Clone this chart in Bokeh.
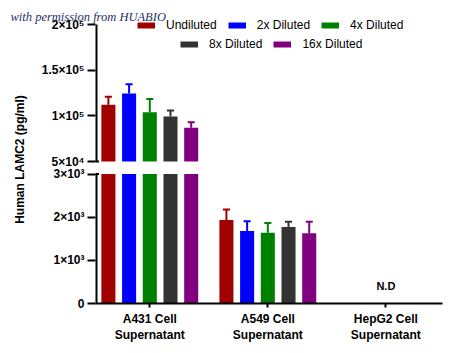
import math
from bokeh.plotting import figure
from bokeh.models import (Range1d, FixedTicker, Legend, LegendItem, Label, Arrow,
                          TeeHead, ColumnDataSource, Title)
from bokeh.embed import file_html
from bokeh.resources import INLINE

# ---------------- data ----------------
groups = ["A431 Cell\nSupernatant", "A549 Cell\nSupernatant", "HepG2 Cell\nSupernatant"]
dilutions = ["Undiluted", "2x Diluted", "4x Diluted", "8x Diluted", "16x Diluted"]
colors = ["#A00000", "#0000FF", "#008000", "#333333", "#800080"]

a431_mean = [112000, 124500, 104000, 99300, 86900]
a431_err = [9000, 10000, 14500, 6500, 6000]
a549_mean = [1935, 1680, 1640, 1770, 1625]
a549_err = [245, 225, 225, 125, 270]
hepg2_note = "N.D"

lower_ticks = [0, 1000, 2000, 3000]
lower_labels = ["0", "1×10³", "2×10³", "3×10³"]
upper_ticks = [50000, 100000, 150000, 200000]
upper_labels = ["5×10⁴", "1×10⁵", "1.5×10⁵", "2×10⁵"]

# ---------------- scales (broken axis) ----------------
LOW = (0, 6672)            # lower segment scale (0 .. 3e3 shown)
UP = (-105474, 209854)     # upper segment scale (5e4 .. 2e5 shown)
LOW_TOP = 3000
UP_BOTTOM = 50000
UP_TOP = 200000
XR = (-0.46, 2.48)

BAR_W = 0.119
STEP = 0.1754
CAP = 0.06

FONT = "Liberation Sans"

p = figure(width=450, height=353, output_backend="svg", toolbar_location=None,
           x_range=Range1d(*XR), y_range=Range1d(*LOW),
           min_border_left=95, min_border_right=8, min_border_top=15, min_border_bottom=50)
p.extra_y_ranges = {"upper": Range1d(*UP)}
p.xgrid.visible = False
p.ygrid.visible = False
p.outline_line_color = None
p.background_fill_color = "white"
p.border_fill_color = "white"

# watermark
p.title = Title(text="with permission from HUABIO", align="left", offset=-85, standoff=-16,
                text_font="Liberation Serif", text_font_style="italic",
                text_font_size="12.5px", text_color="#1F2F66")

# build bar sources
rows = dict(x=[], mean=[], err=[], color=[], low_top=[])
for gi, (means, errs) in enumerate([(a431_mean, a431_err), (a549_mean, a549_err)]):
    for j, (m, e) in enumerate(zip(means, errs)):
        rows["x"].append(gi + (j - 2) * STEP)
        rows["mean"].append(m)
        rows["err"].append(e)
        rows["color"].append(colors[j])
        rows["low_top"].append(min(m, LOW_TOP))

low_src = ColumnDataSource(dict(x=rows["x"], top=rows["low_top"], color=rows["color"]))
p.vbar(x="x", bottom=0, top="top", width=BAR_W, fill_color="color", line_color=None,
       source=low_src)

up_idx = [i for i, m in enumerate(rows["mean"]) if m > UP_BOTTOM]
lo_idx = [i for i, m in enumerate(rows["mean"]) if m <= LOW_TOP]

def sub(idx):
    x = [rows["x"][i] for i in idx]
    m = [rows["mean"][i] for i in idx]
    e = [rows["err"][i] for i in idx]
    c = [rows["color"][i] for i in idx]
    return ColumnDataSource(dict(x=x, top=m, hi=[a + b for a, b in zip(m, e)],
                                 xl=[a - CAP / 2 for a in x], xr=[a + CAP / 2 for a in x],
                                 color=c))

up_src = sub(up_idx)
lo_src = sub(lo_idx)

p.vbar(x="x", bottom=UP_BOTTOM, top="top", width=BAR_W, fill_color="color", line_color=None,
       source=up_src, y_range_name="upper")

for src, rng in [(up_src, "upper"), (lo_src, "default")]:
    p.segment(x0="x", y0="top", x1="x", y1="hi", line_color="color", line_width=2,
              source=src, y_range_name=rng)
    p.segment(x0="xl", y0="hi", x1="xr", y1="hi", line_color="color", line_width=2,
              source=src, y_range_name=rng)

# ---------------- axes ----------------
def to_low(v):
    return round(LOW[0] + (v - UP[0]) / (UP[1] - UP[0]) * (LOW[1] - LOW[0]), 3)

mapped_upper = [to_low(v) for v in upper_ticks]
ya = p.yaxis[0]
ya.ticker = FixedTicker(ticks=lower_ticks + mapped_upper)
ya.major_label_overrides = {**{float(t): l for t, l in zip(lower_ticks, lower_labels)},
                            **{t: l for t, l in zip(mapped_upper, upper_labels)}}
ya.axis_line_color = None
ya.major_tick_out = 8
ya.major_tick_in = 0
ya.major_tick_line_width = 2
ya.minor_tick_line_color = None
ya.major_label_standoff = 3
ya.major_label_text_font = FONT
ya.major_label_text_font_style = "bold"
ya.major_label_text_font_size = "12px"
ya.major_label_text_color = "black"
ya.axis_label = "Human LAMC2 (pg/ml)"
ya.axis_label_standoff = 12
ya.axis_label_text_font = FONT
ya.axis_label_text_font_style = "bold"
ya.axis_label_text_font_size = "12px"
ya.axis_label_text_color = "black"

xa = p.xaxis[0]
xa.ticker = FixedTicker(ticks=[0, 1, 2])
xa.major_label_overrides = {i: g for i, g in enumerate(groups)}
xa.axis_line_width = 2
xa.axis_line_color = "black"
xa.major_tick_out = 4
xa.major_tick_in = 0
xa.major_tick_line_width = 2
xa.minor_tick_line_color = None
xa.major_label_standoff = 4
xa.major_label_text_font = FONT
xa.major_label_text_font_style = "bold"
xa.major_label_text_font_size = "12px"
xa.major_label_text_color = "black"

# broken y-axis lines (two segments)
p.add_layout(Arrow(x_start=XR[0], y_start=0, x_end=XR[0], y_end=LOW_TOP, line_width=4,
                   line_color="black", line_cap="butt", start=None,
                   end=TeeHead(size=7, line_width=2, line_color="black")))
p.add_layout(Arrow(x_start=XR[0], y_start=UP_BOTTOM, x_end=XR[0], y_end=UP_TOP, line_width=4,
                   line_color="black", line_cap="butt", end=None,
                   start=TeeHead(size=7, line_width=2, line_color="black"),
                   y_range_name="upper"))

# ---------------- legend ----------------
nan = float("nan")
leg_renderers = [p.line(x=[nan], y=[nan], line_color=c, line_width=6, line_cap="butt")
                 for c in colors]

def make_legend(idx, loc):
    lg = Legend(items=[LegendItem(label=dilutions[i], renderers=[leg_renderers[i]]) for i in idx],
                orientation="horizontal", location=loc, glyph_width=18, glyph_height=14,
                label_height=14, label_standoff=11, spacing=11, padding=0, margin=0,
                background_fill_alpha=0, border_line_color=None,
                label_text_font=FONT, label_text_font_size="12px", label_text_color="black")
    p.add_layout(lg)

make_legend([0, 1, 2], (42, 271))
make_legend([3, 4], (85, 252))

# ---------------- note ----------------
p.add_layout(Label(x=2, y=17.5, x_units="data", y_units="screen", text=hepg2_note,
                   text_align="center", text_baseline="middle", text_font=FONT,
                   text_font_style="bold", text_font_size="11px", text_color="black"))

open("out.html", "w").write(file_html(p, INLINE))
